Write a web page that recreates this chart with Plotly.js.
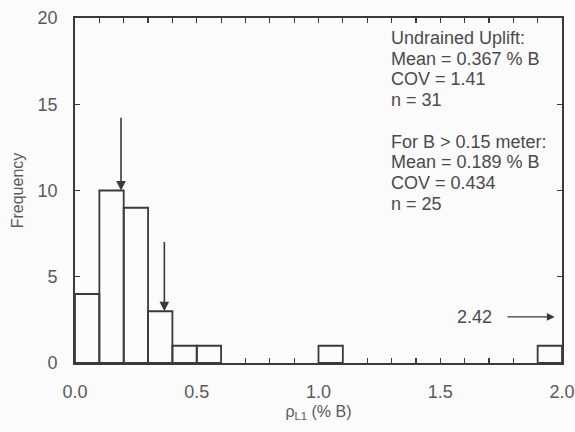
<!DOCTYPE html>
<html><head><meta charset="utf-8">
<script src="https://cdn.plot.ly/plotly-3.0.1.min.js"></script>
<style>html,body{margin:0;padding:0;background:#fbfbfb;}#chart{width:575px;height:432px;}</style>
</head><body><div id="chart"></div>
<script>
// Histogram bins (start of each 0.1-wide bin) and counts
const binStart = [0.0, 0.1, 0.2, 0.3, 0.4, 0.5, 1.0, 1.9];
const counts   = [4, 10, 9, 3, 1, 1, 1, 1];
const binWidth = 0.1;
const xTickVals = [0.0, 0.5, 1.0, 1.5, 2.0];
const xTickText = ['0.0', '0.5', '1.0', '1.5', '2.0'];
const yTickVals = [0, 5, 10, 15, 20];
const meanAll = 0.367, meanLarge = 0.189;
const offScaleValue = '2.42';
const statsText = ['Undrained Uplift:', 'Mean = 0.367 % B', 'COV = 1.41', 'n = 31', '',
                   'For B > 0.15 meter:', 'Mean = 0.189 % B', 'COV = 0.434', 'n = 25'];

const ink = '#3a3a3a';
const textCol = '#4a4a4a';
const tickCol = '#5a5a5a';
const FONT = 'Liberation Sans, Arial, sans-serif';
const centers = binStart.map(b => b + binWidth / 2);

const trace = {
  type: 'bar', x: centers, y: counts, width: binWidth,
  marker: {color: 'rgba(255,255,255,0)', line: {color: ink, width: 1.8}},
  hoverinfo: 'skip'
};

// plot area: top 18px, height 345px
const plotTop = 18, plotH = 345, lineStep = 20.7, firstLine = 38;
const statAnns = statsText.map((t, i) => ({
  x: 1.29, xref: 'x', xanchor: 'left',
  y: 1 - (firstLine + i * lineStep - plotTop) / plotH, yref: 'paper', yanchor: 'middle',
  showarrow: false, text: t, font: {size: 18, color: textCol}
})).filter(a => a.text !== '');

const layout = {
  width: 575, height: 432,
  margin: {l: 75, r: 13, t: plotTop, b: 432 - plotTop - plotH},
  paper_bgcolor: '#fbfbfb', plot_bgcolor: '#fbfbfb',
  showlegend: false,
  font: {family: FONT, color: textCol, size: 18},
  xaxis: {
    range: [0, 2.0], showgrid: false, zeroline: false,
    showline: true, linecolor: ink, linewidth: 1.8, mirror: 'ticks',
    ticks: 'inside', ticklen: 5, tickcolor: ink, tickwidth: 1.2,
    tickvals: xTickVals, ticktext: xTickText,
    minor: {dtick: 0.1, ticks: 'inside', ticklen: 5, tickcolor: ink, tickwidth: 1.2, showgrid: false},
    tickfont: {size: 18, color: tickCol}, ticklabelstandoff: 12,
    title: {text: 'ρ<sub>L1</sub> (% B)', font: {size: 16, color: tickCol}, standoff: 4}
  },
  yaxis: {
    range: [0, 20], showgrid: false, zeroline: false,
    showline: true, linecolor: ink, linewidth: 1.8, mirror: 'ticks',
    ticks: 'inside', ticklen: 5, tickcolor: ink, tickwidth: 1.2,
    tickvals: yTickVals,
    tickfont: {size: 18, color: tickCol}, ticklabelstandoff: 12,
    title: {text: 'Frequency', font: {size: 16, color: tickCol}, standoff: 10}
  },
  annotations: [
    {x: meanLarge, y: 10, xref: 'x', yref: 'y', ax: meanLarge, ay: 14.3, axref: 'x', ayref: 'y',
     showarrow: true, arrowhead: 2, arrowsize: 1.2, arrowwidth: 1.6, arrowcolor: ink, text: ''},
    {x: meanAll, y: 3, xref: 'x', yref: 'y', ax: meanAll, ay: 7.1, axref: 'x', ayref: 'y',
     showarrow: true, arrowhead: 2, arrowsize: 1.2, arrowwidth: 1.6, arrowcolor: ink, text: ''},
    {x: 1.97, y: 2.67, xref: 'x', yref: 'y', ax: 1.77, ay: 2.67, axref: 'x', ayref: 'y',
     showarrow: true, arrowhead: 2, arrowsize: 1.2, arrowwidth: 1.3, arrowcolor: ink, text: ''},
    {x: 1.72, y: 2.67, xref: 'x', yref: 'y', xanchor: 'right', yanchor: 'middle',
     showarrow: false, text: offScaleValue, font: {size: 18, color: textCol}}
  ].concat(statAnns)
};

Plotly.newPlot('chart', [trace], layout, {displayModeBar: false, staticPlot: true});
</script></body></html>
